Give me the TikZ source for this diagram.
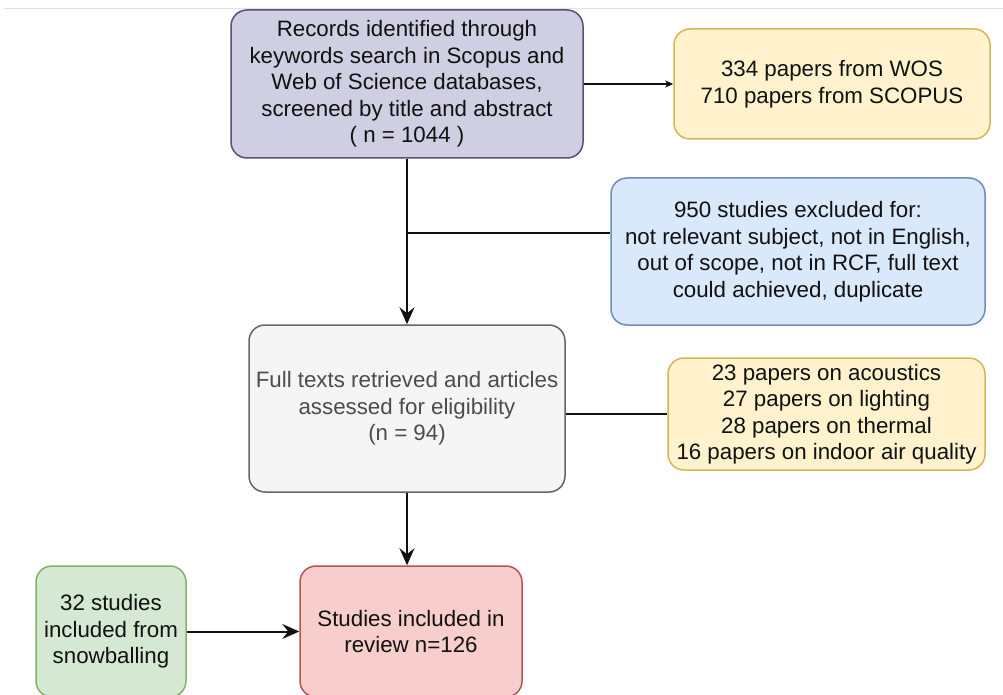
\documentclass[tikz,border=0pt]{standalone}
\usepackage{fontspec}
\setmainfont{Liberation Sans}
\usetikzlibrary{arrows.meta,positioning}
\definecolor{purplefill}{HTML}{D0CEE2}
\definecolor{purpleline}{HTML}{56517E}
\definecolor{yellowfill}{HTML}{FFF2CC}
\definecolor{yellowline}{HTML}{D6B656}
\definecolor{bluefill}{HTML}{DAE8FC}
\definecolor{blueline}{HTML}{6C8EBF}
\definecolor{greyfill}{HTML}{F5F5F5}
\definecolor{greyline}{HTML}{666666}
\definecolor{redfill}{HTML}{F8CECC}
\definecolor{redline}{HTML}{B85450}
\definecolor{greenfill}{HTML}{D5E8D4}
\definecolor{greenline}{HTML}{82B366}
\definecolor{ink}{HTML}{111111}
\definecolor{rule}{HTML}{E2E2E2}

\begin{document}
\begin{tikzpicture}[x=1pt,y=-1pt,
  box/.style={draw,line width=1.5pt,rounded corners=16pt,align=center,
    font=\fontsize{22.3}{26.5}\selectfont,text=ink,inner sep=0pt},
  flow/.style={ink,line width=2pt,-{Stealth[length=17pt,width=15pt,inset=6pt]}},
  link/.style={ink,line width=2pt}]
  \useasboundingbox (0,0) rectangle (1003,695);
  \fill[white] (0,0) rectangle (1003,695);
  \draw[rule,line width=1pt] (4,9)--(1003,9);
  % main column
  \node[box,fill=purplefill,draw=purpleline,minimum width=352pt,minimum height=148pt]
    (records) at (407,84) {Records identified through\\keywords search in Scopus and\\Web of Science databases,\\screened by title and abstract\\( n = 1044 )};
  \node[box,fill=greyfill,draw=greyline,text=black!70,minimum width=316pt,minimum height=167pt]
    (fulltext) at (407,408.5) {Full texts retrieved and articles\\assessed for eligibility\\(n = 94)};
  \node[box,fill=redfill,draw=redline,minimum width=222pt,minimum height=131pt]
    (included) at (411,631.5) {Studies included in\\review n=126};
  % side boxes
  \node[box,fill=yellowfill,draw=yellowline,minimum width=316pt,minimum height=110pt]
    (sources) at (832,84) {334 papers from WOS\\710 papers from SCOPUS};
  \node[box,fill=bluefill,draw=blueline,minimum width=374pt,minimum height=147pt]
    (excluded) at (798,251.5) {950 studies excluded for:\\not relevant subject, not in English,\\out of scope, not in RCF, full text\\could achieved, duplicate};
  \node[box,fill=yellowfill,draw=yellowline,minimum width=317pt,minimum height=112pt]
    (topics) at (826.5,414) {23 papers on acoustics\\27 papers on lighting\\28 papers on thermal\\16 papers on indoor air quality};
  \node[box,fill=greenfill,draw=greenline,minimum width=150pt,minimum height=131pt]
    (snowball) at (111,631.5) {32 studies\\included from\\snowballing};
  % connectors
  \coordinate (split) at (407,233);
  \draw[ink,line width=2pt,-{Stealth[length=8pt,width=7pt,inset=2pt]}] (records.east) -- (sources.west);
  \draw[flow] (records.south) -- (fulltext.north);
  \draw[link] (split) -- (split -| excluded.west);
  \draw[link] (topics.west -| fulltext.east) -- (topics.west);
  \draw[flow] (fulltext.south) -- (fulltext.south |- included.north);
  \draw[flow] (snowball.east) -- (included.west);
\end{tikzpicture}
\end{document}
